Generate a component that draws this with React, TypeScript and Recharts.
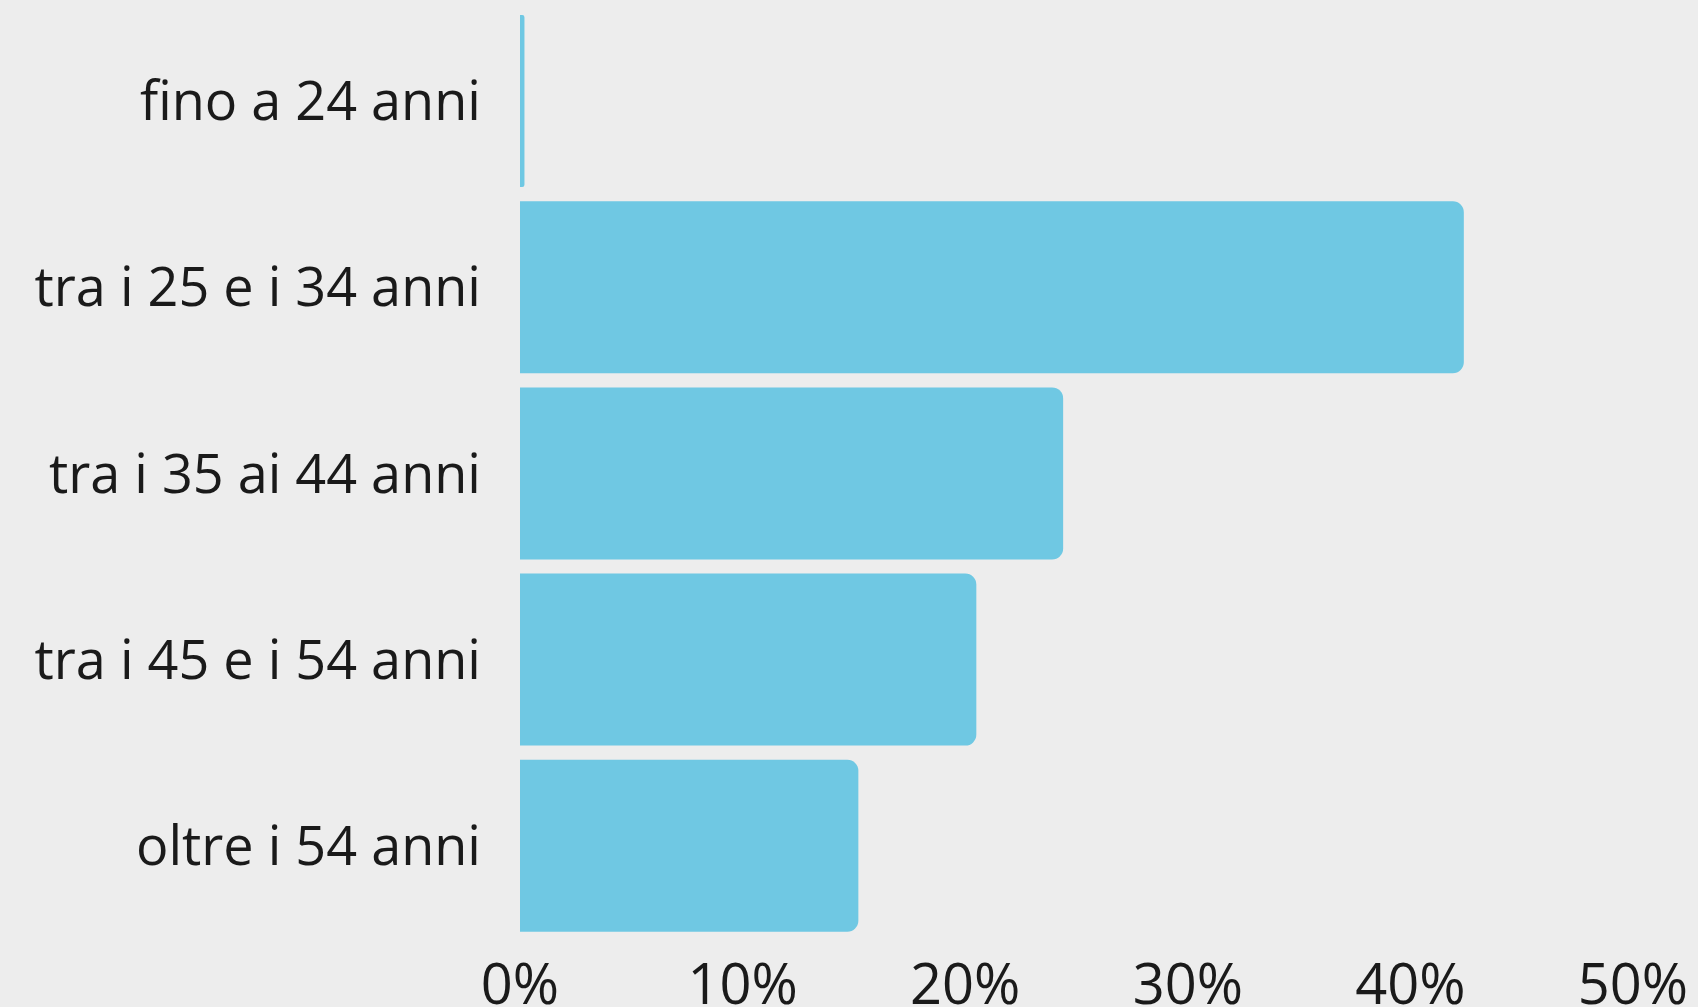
import React from "react";
import { BarChart, Bar, XAxis, YAxis } from "recharts";

const categories = [
  "fino a 24 anni",
  "tra i 25 e i 34 anni",
  "tra i 35 ai 44 anni",
  "tra i 45 e i 54 anni",
  "oltre i 54 anni",
];
const values = [0.2, 42.4, 24.4, 20.5, 15.2];
const xTicks = [0, 10, 20, 30, 40, 50];

const data = categories.map((c, i) => ({ name: c, value: values[i] }));

export default function App() {
  return (
    <div
      style={{
        position: "absolute",
        left: 0,
        top: 0,
        width: 1698,
        height: 1007,
        background: "#EDEDED",
        overflow: "hidden",
      }}
    >
      <BarChart
        width={1698}
        height={1007}
        data={data}
        layout="vertical"
        margin={{ top: 8, right: 65, left: 0, bottom: 0 }}
        barCategoryGap={7}
      >
        <XAxis
          type="number"
          domain={[0, 50]}
          ticks={xTicks}
          tickFormatter={(v) => `${v}%`}
          axisLine={false}
          tickLine={false}
          tickSize={0}
          tickMargin={25}
          height={68}
          interval={0}
          tick={{ fontSize: 56, fill: "#1a1a1a", fontFamily: "Open Sans" }}
        />
        <YAxis
          type="category"
          dataKey="name"
          width={520}
          axisLine={false}
          tickLine={false}
          tickSize={0}
          tickMargin={39}
          interval={0}
          tick={{ fontSize: 54, fill: "#1a1a1a", fontFamily: "Open Sans" }}
        />
        <Bar
          dataKey="value"
          fill="#6FC8E3"
          radius={[0, 11, 11, 0]}
          isAnimationActive={false}
        />
      </BarChart>
    </div>
  );
}
